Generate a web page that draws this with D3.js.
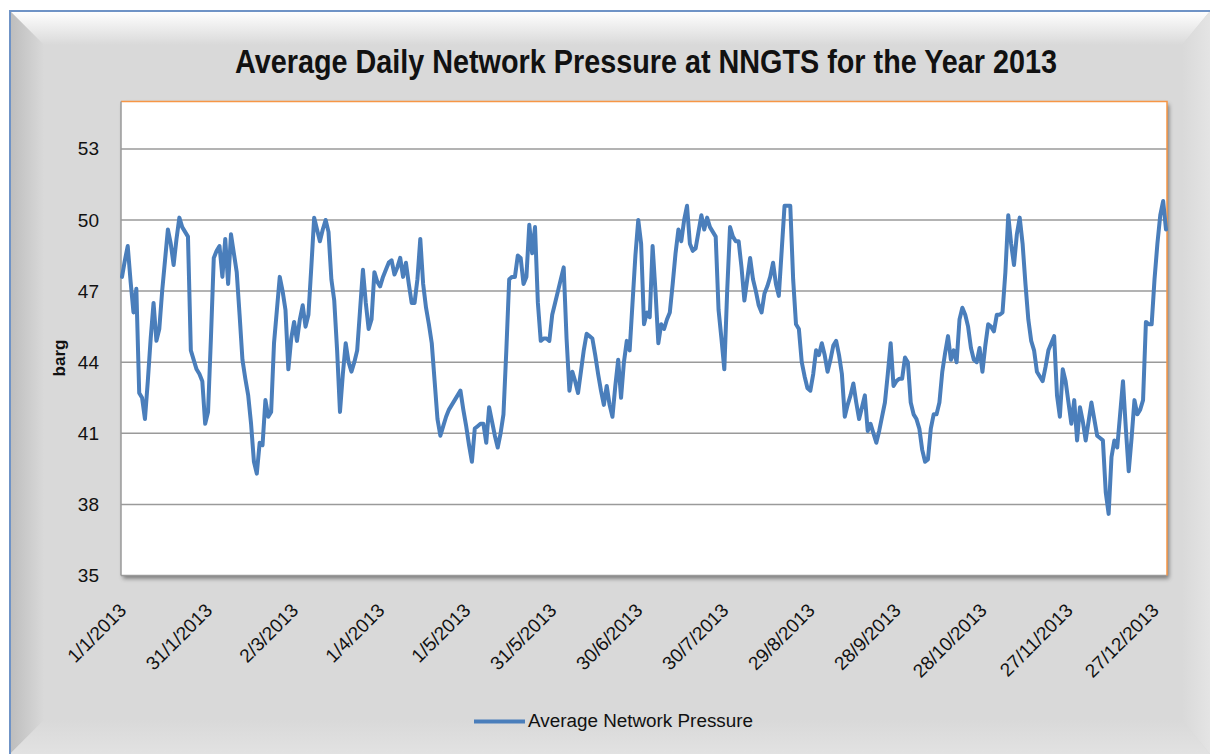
<!DOCTYPE html>
<html>
<head>
<meta charset="utf-8">
<script src="https://cdn.jsdelivr.net/npm/d3@7"></script>
<style>
  html, body { margin: 0; padding: 0; background: #ffffff; }
  svg { display: block; }
</style>
</head>
<body>
<svg id="chart" width="1210" height="754"></svg>
<script>
// ---------------- data ----------------
const title = "Average Daily Network Pressure at NNGTS for the Year 2013";
const seriesName = "Average Network Pressure";
const yAxisTitle = "barg";
const startDate = "1/1/2013";
const yTicks = [35, 38, 41, 44, 47, 50, 53];
const yDomain = [35, 55];
const xTickLabels = ["1/1/2013", "31/1/2013", "2/3/2013", "1/4/2013", "1/5/2013", "31/5/2013",
  "30/6/2013", "30/7/2013", "29/8/2013", "28/9/2013", "28/10/2013", "27/11/2013", "27/12/2013"];
// daily average network pressure (barg), 1 Jan .. 31 Dec 2013
const pressure = [
  47.6, 48.3, 48.9, 47.4, 46.1, 47.1, 42.7, 42.5, 41.6, 43.2,
  45.0, 46.5, 44.9, 45.4, 47.0, 48.3, 49.6, 49.0, 48.1, 49.2,
  50.1, 49.7, 49.5, 49.3, 44.5, 44.1, 43.7, 43.5, 43.2, 41.4,
  41.9, 45.0, 48.4, 48.7, 48.9, 47.6, 49.2, 47.3, 49.4, 48.6,
  47.8, 46.0, 44.1, 43.3, 42.6, 41.4, 39.8, 39.3, 40.6, 40.5,
  42.4, 41.7, 41.9, 44.8, 46.2, 47.6, 47.0, 46.2, 43.7, 45.0,
  45.7, 44.9, 45.8, 46.4, 45.5, 46.0, 48.0, 50.1, 49.6, 49.1,
  49.6, 50.0, 49.5, 47.5, 46.6, 44.5, 41.9, 43.5, 44.8, 44.0,
  43.6, 44.0, 44.5, 46.2, 47.9, 46.5, 45.4, 45.8, 47.8, 47.4,
  47.2, 47.6, 47.9, 48.2, 48.3, 47.7, 48.0, 48.4, 47.6, 48.2,
  47.3, 46.5, 46.5, 47.5, 49.2, 47.3, 46.3, 45.6, 44.8, 43.2,
  41.6, 40.9, 41.3, 41.7, 42.0, 42.2, 42.4, 42.6, 42.8, 42.0,
  41.3, 40.5, 39.8, 41.2, 41.3, 41.4, 41.4, 40.6, 42.1, 41.5,
  40.9, 40.4, 41.0, 41.8, 44.5, 47.5, 47.6, 47.6, 48.5, 48.4,
  47.3, 47.6, 49.8, 48.6, 49.7, 46.5, 44.9, 45.0, 45.0, 44.9,
  46.0, 46.5, 47.0, 47.5, 48.0, 45.0, 42.8, 43.6, 43.2, 42.7,
  43.6, 44.5, 45.2, 45.1, 45.0, 44.3, 43.5, 42.8, 42.2, 43.0,
  42.2, 41.7, 43.0, 44.1, 42.5, 44.0, 44.9, 44.5, 46.5, 48.5,
  50.0, 49.0, 45.6, 46.1, 45.9, 48.9, 47.0, 44.8, 45.6, 45.4,
  45.8, 46.1, 47.3, 48.6, 49.6, 49.1, 50.0, 50.6, 49.0, 48.7,
  48.8, 49.5, 50.2, 49.6, 50.1, 49.7, 49.5, 49.3, 46.2, 45.0,
  43.7, 47.0, 49.7, 49.3, 49.1, 49.1, 48.0, 46.6, 47.5, 48.4,
  47.5, 47.0, 46.4, 46.1, 46.9, 47.2, 47.6, 48.2, 47.3, 46.8,
  48.7, 50.6, 50.6, 50.6, 47.5, 45.6, 45.4, 44.0, 43.4, 42.9,
  42.8, 43.5, 44.5, 44.3, 44.8, 44.3, 43.6, 44.1, 44.7, 44.9,
  44.3, 43.5, 41.7, 42.2, 42.6, 43.1, 42.3, 41.6, 42.1, 42.6,
  41.1, 41.4, 41.0, 40.6, 41.1, 41.7, 42.3, 43.5, 44.8, 43.0,
  43.2, 43.3, 43.3, 44.2, 44.0, 42.3, 41.8, 41.6, 41.2, 40.3,
  39.8, 39.9, 41.2, 41.8, 41.8, 42.3, 43.6, 44.4, 45.1, 44.1,
  44.5, 44.0, 45.8, 46.3, 46.0, 45.5, 44.6, 44.1, 44.0, 44.6,
  43.6, 44.7, 45.6, 45.5, 45.3, 46.0, 46.0, 46.1, 47.8, 50.2,
  49.0, 48.1, 49.4, 50.1, 49.0, 47.3, 45.8, 44.9, 44.5, 43.6,
  43.4, 43.2, 43.8, 44.5, 44.8, 45.1, 42.6, 41.7, 43.7, 43.2,
  42.3, 41.4, 42.4, 40.7, 42.1, 41.5, 40.7, 41.5, 42.3, 41.6,
  40.9, 40.8, 40.7, 38.5, 37.6, 40.0, 40.7, 40.4, 41.8, 43.2,
  41.2, 39.4, 40.8, 42.4, 41.8, 42.0, 42.4, 45.7, 45.6, 45.6,
  47.5, 49.0, 50.2, 50.8, 49.6
];

// ---------------- layout ----------------
const W = 1210, H = 754;
const plot = { left: 121, right: 1167, top: 101.5, bottom: 575.5 };
const parseDate = d3.utcParse("%d/%m/%Y");
const t0 = parseDate(startDate);
const data = pressure.map((v, i) => ({ date: d3.utcDay.offset(t0, i), value: v }));

const x = d3.scaleUtc()
  .domain([data[0].date, data[data.length - 1].date])
  .range([122, 1166]);
const y = d3.scaleLinear().domain(yDomain).range([plot.bottom, plot.top]);

const svg = d3.select("#chart");
const defs = svg.append("defs");

function linGrad(id, x1, y1, x2, y2, stops) {
  const g = defs.append("linearGradient").attr("id", id)
    .attr("x1", x1).attr("y1", y1).attr("x2", x2).attr("y2", y2);
  stops.forEach(s => g.append("stop").attr("offset", s[0]).attr("stop-color", s[1]));
}
linGrad("gTop", 0, 0, 0, 1, [[0, "#ffffff"], [1, "#d9d9d9"]]);
linGrad("gLeft", 0, 0, 1, 0, [[0, "#bdbdbd"], [1, "#d9d9d9"]]);
linGrad("gRight", 0, 0, 1, 0, [[0, "#d9d9d9"], [1, "#e4e4e4"]]);
linGrad("gBottom", 0, 0, 0, 1, [[0, "#d9d9d9"], [1, "#e2e2e2"]]);

const shadow = defs.append("filter").attr("id", "shadow")
  .attr("x", "-5%").attr("y", "-5%").attr("width", "110%").attr("height", "110%");
shadow.append("feDropShadow").attr("dx", 2).attr("dy", 3)
  .attr("stdDeviation", 2).attr("flood-color", "#000").attr("flood-opacity", 0.45);

// frame
const fx0 = 10, fy0 = 11, fx1 = 1210, fy1 = 754, bw = 34;
svg.append("rect").attr("x", fx0).attr("y", fy0).attr("width", fx1 - fx0).attr("height", fy1 - fy0)
  .attr("fill", "#d9d9d9");
svg.append("polygon").attr("fill", "url(#gTop)")
  .attr("points", [[fx0, fy0], [fx1, fy0], [fx1 - 28, fy0 + bw], [fx0 + bw, fy0 + bw]].join(" "));
svg.append("polygon").attr("fill", "url(#gLeft)")
  .attr("points", [[fx0, fy0], [fx0 + bw, fy0 + bw], [fx0 + bw, fy1 - bw], [fx0, fy1]].join(" "));
svg.append("polygon").attr("fill", "url(#gRight)")
  .attr("points", [[fx1 - 28, fy0 + bw], [fx1, fy0], [fx1, fy1], [fx1 - 28, fy1 - bw]].join(" "));
svg.append("polygon").attr("fill", "url(#gBottom)")
  .attr("points", [[fx0 + bw, fy1 - bw], [fx1 - 28, fy1 - bw], [fx1, fy1], [fx0, fy1]].join(" "));
svg.append("path").attr("fill", "none").attr("stroke", "#6f93c6").attr("stroke-width", 2)
  .attr("d", `M${fx0},${fy1}V${fy0}H${fx1}`);

// title
svg.append("text")
  .attr("x", 646).attr("y", 73)
  .attr("text-anchor", "middle")
  .attr("font-family", "Liberation Sans, Arial, sans-serif")
  .attr("font-weight", "bold").attr("font-size", 33)
  .attr("textLength", 822).attr("lengthAdjust", "spacingAndGlyphs")
  .attr("fill", "#111")
  .text(title);

// plot area
svg.append("rect")
  .attr("x", plot.left).attr("y", plot.top)
  .attr("width", plot.right - plot.left).attr("height", plot.bottom - plot.top)
  .attr("fill", "#ffffff").attr("filter", "url(#shadow)");

// gridlines
svg.append("g").selectAll("line").data(yTicks).join("line")
  .attr("x1", plot.left).attr("x2", plot.right)
  .attr("y1", d => y(d)).attr("y2", d => y(d))
  .attr("stroke", "#9a9a9a").attr("stroke-width", 1.5);

// borders: orange top & right, grey left (axis)
svg.append("path").attr("fill", "none").attr("stroke", "#f79646").attr("stroke-width", 1.5)
  .attr("d", `M${plot.left},${plot.top}H${plot.right}V${plot.bottom}`);
svg.append("line").attr("x1", plot.left).attr("x2", plot.left)
  .attr("y1", plot.top).attr("y2", plot.bottom)
  .attr("stroke", "#9a9a9a").attr("stroke-width", 1.5);

// y axis labels
const yAxis = d3.axisLeft(y).tickValues(yTicks).tickSize(0).tickPadding(22);
const gy = svg.append("g").attr("transform", `translate(${plot.left},0)`).call(yAxis);
gy.select(".domain").remove();
gy.selectAll("text")
  .attr("font-family", "Liberation Sans, Arial, sans-serif")
  .attr("font-size", 19).attr("fill", "#111");

// y axis title
svg.append("text")
  .attr("transform", "translate(65,358) rotate(-90)")
  .attr("text-anchor", "middle")
  .attr("font-family", "Liberation Sans, Arial, sans-serif")
  .attr("font-weight", "bold").attr("font-size", 17).attr("fill", "#111")
  .text(yAxisTitle);

// x axis labels
const xTicks = xTickLabels.map(s => parseDate(s));
const xAxis = d3.axisBottom(x).tickValues(xTicks).tickSize(0)
  .tickFormat((d, i) => xTickLabels[i]);
const gx = svg.append("g").attr("transform", `translate(0,${plot.bottom})`).call(xAxis);
gx.select(".domain").remove();
gx.selectAll("text")
  .attr("font-family", "Liberation Sans, Arial, sans-serif")
  .attr("font-size", 19).attr("fill", "#111")
  .attr("text-anchor", "end")
  .attr("dy", null).attr("y", 0)
  .attr("transform", "translate(5,36) rotate(-45)");

// line
const line = d3.line().x(d => x(d.date)).y(d => y(d.value));
svg.append("path").datum(data)
  .attr("fill", "none").attr("stroke", "#4a7ebb").attr("stroke-width", 4)
  .attr("stroke-linejoin", "round").attr("stroke-linecap", "round")
  .attr("d", line);

// legend
const lg = svg.append("g");
lg.append("line").attr("x1", 474).attr("x2", 525).attr("y1", 721.5).attr("y2", 721.5)
  .attr("stroke", "#4a7ebb").attr("stroke-width", 4);
lg.append("text").attr("x", 528).attr("y", 727)
  .attr("font-family", "Liberation Sans, Arial, sans-serif")
  .attr("font-size", 18).attr("fill", "#111")
  .attr("textLength", 225).attr("lengthAdjust", "spacingAndGlyphs")
  .text(seriesName);
</script>
</body>
</html>
